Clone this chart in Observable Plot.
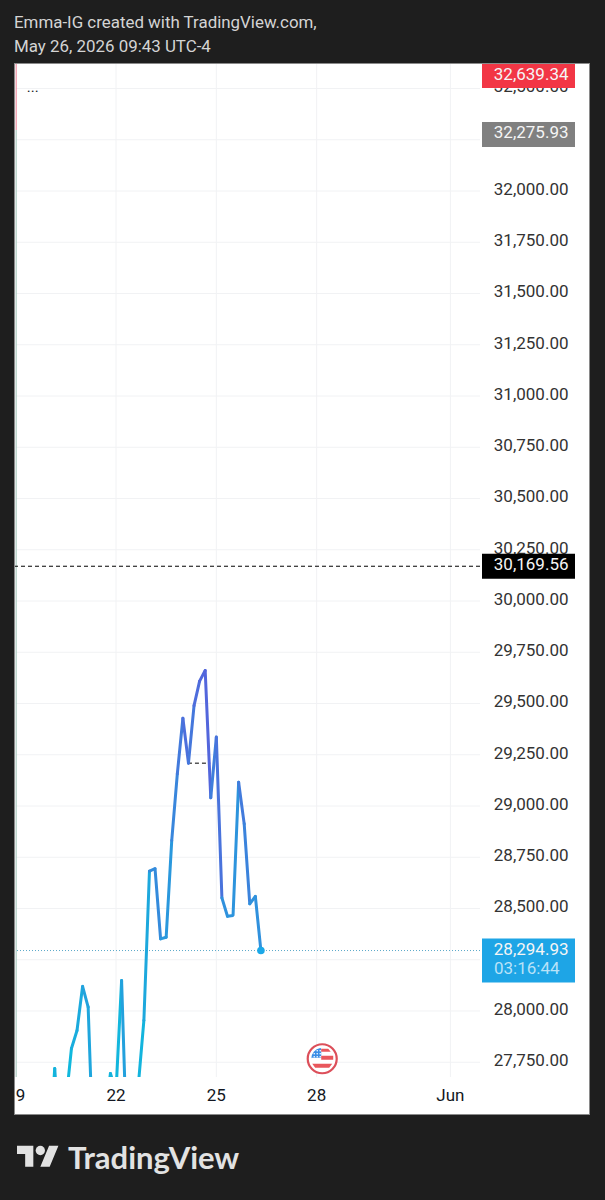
<!DOCTYPE html>
<html>
<head>
<meta charset="utf-8">
<script src="https://cdn.jsdelivr.net/npm/d3@7"></script>
<script src="https://cdn.jsdelivr.net/npm/@observablehq/plot@0.6"></script>
<style>
  html, body { margin: 0; padding: 0; background: #1e1e1e; }
  #page { position: relative; width: 605px; height: 1200px; overflow: hidden; }
  #head { height: 63px; padding-left: 14px; box-sizing: border-box; color: #d4d4d4;
          font: 16.9px/24px Roboto, sans-serif; padding-top: 10px; white-space: nowrap; }
  #chart svg { display: block; margin-left: 14px; outline: 1px solid #8a8a8a; outline-offset: -1px; overflow: hidden; }
  #foot { position: absolute; left: 17px; top: 1141px; display: flex; align-items: flex-start; }
  #foot span { color: #e2e2e2; font: 700 31px/32px Lato, sans-serif; margin-left: 9px; }
</style>
</head>
<body>
<div id="page">
  <div id="head">Emma-IG created with TradingView.com,<br>May 26, 2026 09:43 UTC-4</div>
  <div id="chart"></div>
  <div id="foot">
    <svg width="42" height="33" viewBox="0 0 36 28"><path fill="#e2e2e2" d="M14 22H7V11H0V4h14v18zM28 22h-8l7.5-18h8L28 22z"/><circle fill="#e2e2e2" cx="20" cy="8" r="4"/></svg>
    <span>TradingView</span>
  </div>
</div>
<script>
const seriesStart = "2026-05-20T00:00:00Z";
const closes = [
  27300, 27720, 27300, 27554, 27817, 27905,
  28120, 28019, 27245, 27400, 27500, 27695,
  27607, 28149, 27280, 27400, 27637, 27954,
  28682, 28694, 28352, 28360, 28832, 29157,
  29428, 29209, 29490, 29609, 29661, 29040,
  29336, 28552, 28462, 28466, 29116, 28913,
  28523, 28559, 28294.93
];
const priceTicks = d3.range(27750, 32750, 250);
const hiddenPriceLabels = [32250, 28250];
const dayTicks = ["2026-05-19", "2026-05-22", "2026-05-25", "2026-05-28", "2026-06-01"];
const dayLabels = ["19", "22", "25", "28", "Jun"];
const tagPrices = [32563, 32275.93, 30169.56];
const tagLabels = ["32,639.34", "32,275.93", "30,169.56"];
const tagColors = ["#f23645", "#808080", "#000000"];
const lastPrice = 28294.93;
const lastLabel = "28,294.93";
const countdown = "03:16:44";
const openDashPrice = 30169.56;
const levelPrice = 29209;
const levelSpan = ["2026-05-24T04:00:00Z", "2026-05-24T20:00:00Z"];
const flagAt = {date: "2026-05-28T04:00:00Z", price: 27767};

const t0 = new Date(seriesStart);
const series = closes.map((close, i) => ({date: d3.utcHour.offset(t0, 4 * i), close}));
const last = series[series.length - 1];
const ticks = dayTicks.map((d, i) => ({date: new Date(d + "T00:00:00Z"), label: dayLabels[i]}));
const tags = tagPrices.map((price, i) => ({price, label: tagLabels[i], color: tagColors[i]}));
const tagFont = {fontFamily: "Roboto, sans-serif", fontSize: 17};
const paneRight = 110;
const textDx = -22;

const sym = (f) => ({draw: f});
const canton = sym((c) => { c.moveTo(-11, -1); c.lineTo(-1, -1); c.lineTo(-1, -10); c.arc(0, 0, 11, -Math.PI / 1.8, Math.PI, true); c.closePath(); });
const stripes = sym((c) => {
  c.moveTo(-1, -10); c.lineTo(6, -10); c.lineTo(8.5, -7); c.lineTo(-1, -7); c.closePath();
  c.moveTo(-1, -3); c.lineTo(11, -3); c.lineTo(11, 1); c.lineTo(-1, 1); c.closePath();
  c.moveTo(-10, 5); c.lineTo(10, 5); c.lineTo(7, 9); c.lineTo(-7, 9); c.closePath();
});
const stars = sym((c) => {
  for (const [x, y] of [[-8,-5],[-5,-5],[-2,-5],[-8,-2],[-5,-2],[-2,-2],[-5,-8],[-2,-8]]) {
    c.moveTo(x + 0.8, y); c.arc(x, y, 0.8, 0, 2 * Math.PI);
  }
});

const flag = [{date: new Date(flagAt.date), price: flagAt.price}];
const f = {x: "date", y: "price"};
const gridColor = "#f1f2f4";

const chart = Plot.plot({
  width: 576,
  height: 1052,
  marginLeft: 0, marginRight: 0, marginTop: 0, marginBottom: 38,
  style: {background: "#ffffff", overflow: "hidden"},
  x: {type: "utc", domain: [new Date("2026-05-18T23:08:00Z"), new Date("2026-06-05T04:34:00Z")], axis: null},
  y: {domain: [27675.6, 32622], axis: null},
  color: {type: "linear", domain: [27700, 29660], range: ["#15b2dd", "#5366dc"]},
  marks: [
    Plot.ruleY(priceTicks, {stroke: gridColor, strokeWidth: 1, insetRight: paneRight}),
    Plot.ruleX(ticks, {x: "date", stroke: gridColor, strokeWidth: 1}),
    Plot.ruleX([ticks[0].date], {y1: 32622, y2: 32295, stroke: "#f2859a", strokeWidth: 1, dx: 0.5}),
    Plot.ruleX([ticks[0].date], {y1: 32295, y2: 27675.6, stroke: "#a8c8bd", strokeWidth: 1, dx: 0.5}),
    Plot.ruleY([lastPrice], {stroke: "#5aa9c9", strokeWidth: 1, strokeDasharray: "1 2", insetRight: paneRight}),
    Plot.ruleY([openDashPrice], {stroke: "#000", strokeWidth: 1, strokeDasharray: "4 3", insetRight: paneRight}),
    Plot.ruleY([levelPrice], {x1: () => new Date(levelSpan[0]), x2: () => new Date(levelSpan[1]), stroke: "#000", strokeWidth: 1, strokeDasharray: "4 3"}),
    Plot.line(series, {x: "date", y: "close", stroke: "close", z: null, strokeWidth: 3, clip: true, strokeLinejoin: "miter"}),
    Plot.dot([last], {x: "date", y: "close", r: 3.8, fill: "#1ba8e8", stroke: "none"}),
    Plot.text(priceTicks.filter(d => !hiddenPriceLabels.includes(d)), {y: d => d, text: d => d3.format(",.2f")(d), frameAnchor: "right", textAnchor: "end", dx: textDx, dy: -1.5, fill: "#333", ...tagFont}),
    Plot.ruleY(tags, {y: "price", stroke: "color", strokeWidth: 25, insetLeft: 468, insetRight: 15}),
    Plot.text(tags, {y: "price", text: "label", frameAnchor: "right", textAnchor: "end", dx: textDx, dy: -1.5, fill: "#f5f5f5", ...tagFont}),
    Plot.ruleY([lastPrice], {stroke: "#1ea5e6", strokeWidth: 44, dy: 10, insetLeft: 468, insetRight: 15}),
    Plot.text([lastLabel], {y: () => lastPrice, text: d => d, frameAnchor: "right", textAnchor: "end", dx: textDx, dy: -1, fill: "#f5f5f5", ...tagFont}),
    Plot.text([countdown], {y: () => lastPrice, text: d => d, frameAnchor: "right", textAnchor: "end", dx: textDx - 9, dy: 18, fill: "#b9e2f8", ...tagFont}),
    Plot.text(ticks, {x: "date", text: "label", frameAnchor: "bottom", dy: 23.5, fill: "#131722", fontFamily: "Roboto, sans-serif", fontSize: 17,
      fontWeight: d => d.label === "Jun" ? 700 : 400}),
    Plot.text(["..."], {x: () => ticks[0].date, y: () => 32505, text: d => d, dx: 17, fill: "#222", fontFamily: "Roboto, sans-serif", fontSize: 15}),
    Plot.dot(flag, {...f, r: 14.5, fill: "#fff", stroke: "#dc4f5a", strokeWidth: 2.2}),
    Plot.dot(flag, {...f, r: 10, symbol: canton, fill: "#3a8ee6", stroke: "none"}),
    Plot.dot(flag, {...f, r: 10, symbol: stripes, fill: "#e9575c", stroke: "none"}),
    Plot.dot(flag, {...f, r: 10, symbol: stars, fill: "#fff", stroke: "none"})
  ]
});
document.getElementById("chart").appendChild(chart);
</script>
</body>
</html>
